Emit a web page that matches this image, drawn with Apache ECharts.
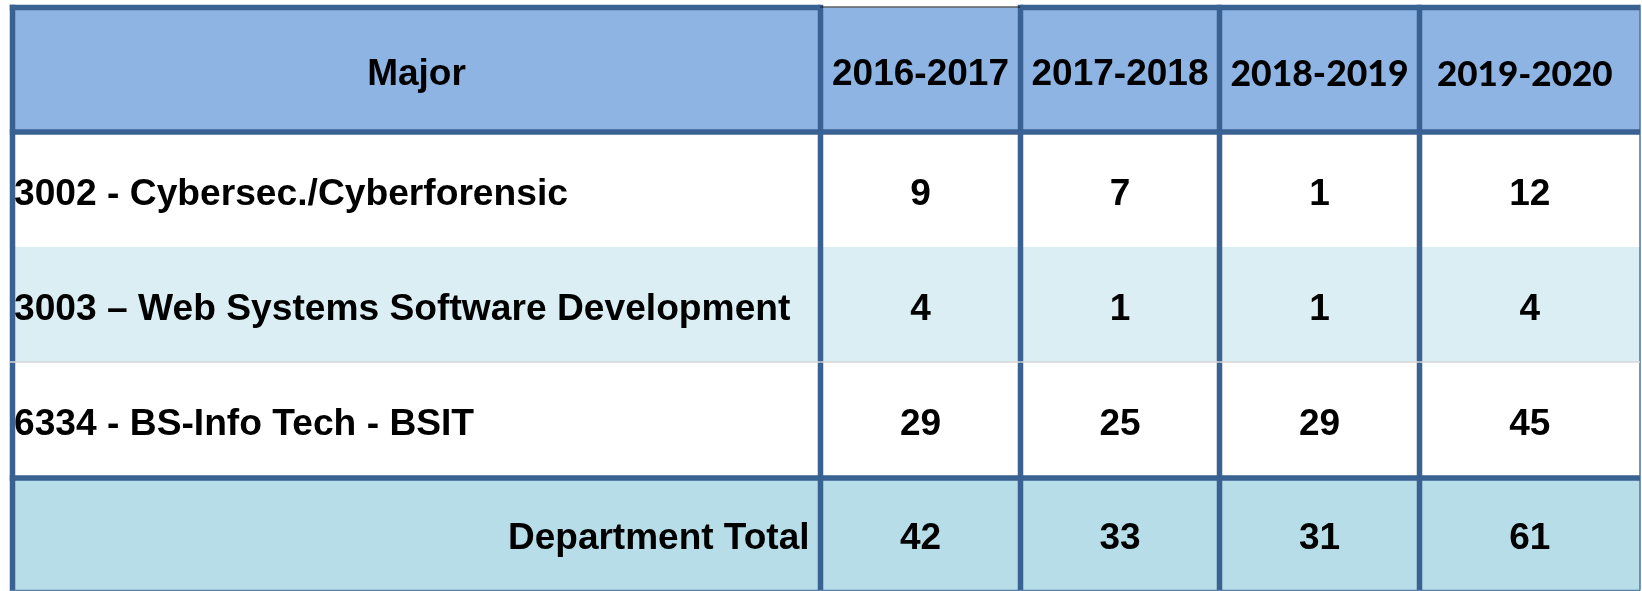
<!DOCTYPE html>
<html>
<head>
<meta charset="utf-8">
<title>Graduates by major</title>
<script src="https://cdn.jsdelivr.net/npm/echarts@6/dist/echarts.min.js"></script>
<style>
  html, body { margin: 0; padding: 0; background: #fff; }
  #chart { width: 1642px; height: 591px; }
</style>
</head>
<body>
<div id="chart"></div>
<script>
// table content
const columns = ['Major', '2016-2017', '2017-2018', '2018-2019', '2019-2020']
const majors = [
  '3002 - Cybersec./Cyberforensic',
  '3003 – Web Systems Software Development',
  '6334 - BS-Info Tech - BSIT'
]
const y2016 = [9, 4, 29]
const y2017 = [7, 1, 25]
const y2018 = [1, 1, 29]
const y2019 = [12, 4, 45]
const totalLabel = 'Department Total'
const totals = [42, 33, 31, 61]

// layout of the table (axis units = px inside the grid)
const colEdges = [0, 808, 1008, 1207, 1407, 1627.5]
const rowEdges = [0, 124.5, 239.5, 354.5, 470.5, 583]
const rowFills = ['#8eb4e3', '#ffffff', '#dbeef4', '#ffffff', '#b7dde8']
const borderColor = '#396191'
const font = '"Liberation Sans", Arial, sans-serif'

// build cells [col, row, text]
const cells = []
columns.forEach((c, i) => cells.push([i, 0, c]))
const yearCols = [y2016, y2017, y2018, y2019]
majors.forEach((m, r) => {
  cells.push([0, r + 1, m])
  yearCols.forEach((arr, i) => cells.push([i + 1, r + 1, String(arr[r])]))
})
cells.push([0, 4, totalLabel])
totals.forEach((v, i) => cells.push([i + 1, 4, String(v)]))

// border segments
const borders = []
colEdges.forEach((x, i) => borders.push(['v', i]))
rowEdges.forEach((y, j) => {
  for (let c = 0; c < columns.length; c++) borders.push(['h', j, c])
})

function borderStyle(b) {
  if (b[0] === 'v') {
    if (b[1] === colEdges.length - 1) return { w: 1.5, color: '#4d74a0' }
    return { w: 5.5, color: borderColor }
  }
  const j = b[1]
  if (j === 0 && b[2] === 1) return { w: 1.2, color: '#111', dy: -0.5 }
  if (j === 0 || j === 1 || j === 4) return { w: 5.5, color: borderColor }
  if (j === 3) return { w: 1.5, color: '#d6d6d6' }
  if (j === 5) return { w: 1.5, color: '#5a7fab' }
  return null
}

function renderCell(params, api) {
  const c = api.value(0)
  const r = api.value(1)
  const text = cells[params.dataIndex][2]
  const p0 = api.coord([colEdges[c], rowEdges[r]])
  const p1 = api.coord([colEdges[c + 1], rowEdges[r + 1]])
  let tx = (p0[0] + p1[0]) / 2
  let align = 'center'
  let size = 37
  let weight = 'bold'
  let ff = font
  if (c === 0 && r > 0 && r < 4) { tx = p0[0] + 1.5; align = 'left'; size = 37.2 }
  if (c === 0 && r === 4) { tx = p1[0] - 11; align = 'right' }
  if (r === 0 && c >= 3) { ff = 'Lato, sans-serif'; weight = '900'; size = c === 3 ? 35.5 : 35 }
  if (r === 0 && c === 4) tx -= 5
  return {
    type: 'group',
    children: [{
      type: 'rect',
      shape: { x: p0[0], y: p0[1], width: p1[0] - p0[0], height: p1[1] - p0[1] },
      style: { fill: rowFills[r] }
    }, {
      type: 'text',
      z2: 10,
      style: {
        x: tx,
        y: (p0[1] + p1[1]) / 2 + 5,
        text: text,
        align: align,
        verticalAlign: 'middle',
        fill: '#000',
        font: weight + ' ' + size + 'px ' + ff
      }
    }]
  }
}

function renderBorder(params, api) {
  const b = borders[params.dataIndex]
  const s = borderStyle(b)
  if (!s) return null
  let a, z
  if (b[0] === 'v') {
    a = api.coord([colEdges[b[1]], rowEdges[0]])
    z = api.coord([colEdges[b[1]], rowEdges[rowEdges.length - 1]])
    a[1] -= 2.75
  } else {
    a = api.coord([colEdges[b[2]], rowEdges[b[1]]])
    z = api.coord([colEdges[b[2] + 1], rowEdges[b[1]]])
    a[1] += s.dy || 0
    z[1] += s.dy || 0
    if (b[2] === 0) a[0] -= 2.75
  }
  return {
    type: 'line',
    shape: { x1: a[0], y1: a[1], x2: z[0], y2: z[1] },
    style: { stroke: s.color, lineWidth: s.w }
  }
}

const chart = echarts.init(document.getElementById('chart'), null, { renderer: 'canvas' })
chart.setOption({
  animation: false,
  grid: { left: 12.5, top: 7.5, right: 2, bottom: 0.5 },
  xAxis: { type: 'value', min: 0, max: colEdges[colEdges.length - 1], show: false },
  yAxis: { type: 'value', min: 0, max: rowEdges[rowEdges.length - 1], inverse: true, show: false },
  series: [{
    type: 'custom',
    name: 'cells',
    data: cells.map(d => [d[0], d[1]]),
    renderItem: renderCell,
    clip: false,
    z: 1
  }, {
    type: 'custom',
    name: 'borders',
    data: borders.map((b, i) => [i, 0]),
    renderItem: renderBorder,
    clip: false,
    z: 5
  }]
})
</script>
</body>
</html>
